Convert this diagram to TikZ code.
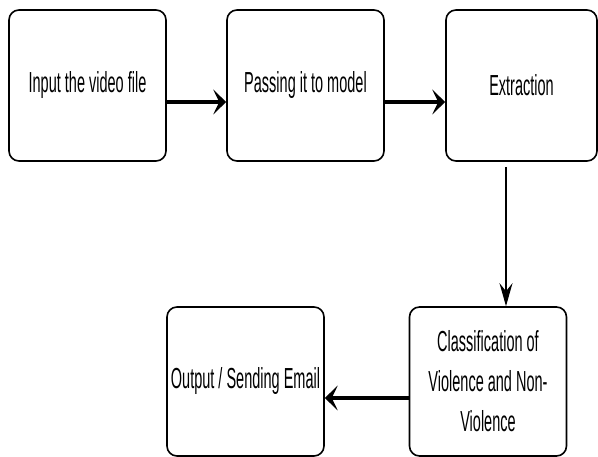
\documentclass[tikz,border=0pt]{standalone}
\usepackage{fontspec}
\setmainfont[FakeStretch=0.5]{Liberation Sans}
\usepackage{tikz}
\usetikzlibrary{arrows.meta}

\tikzset{
  stage/.style={draw, line width=1.6pt, rounded corners=10pt, align=center,
    minimum width=157pt, minimum height=151pt, inner sep=1pt,
    font=\fontsize{29}{40}\selectfont},
  flow/.style={-{Stealth[length=13pt,width=25pt,inset=6pt]}, line width=3.4pt},
  drop/.style={-{Stealth[length=23pt,width=13pt,inset=8pt]}, line width=1.5pt}
}

\begin{document}
\begin{tikzpicture}[x=1pt,y=-1pt]
 \useasboundingbox (0,0) rectangle (598,457);

% Top row
 \node[stage] (input) at (87.5,85.5) {Input the video file};
 \node[stage] (pass) at (305.5,85.5) {Passing it to model};
 \node[stage, minimum width=151pt] (extract) at (521.5,85.5) {Extraction};

% Bottom row
 \node[stage, minimum height=149pt] (classify) at (488,381.5)
   {Classification of\\Violence and Non-\\Violence};
 \node[stage, minimum height=149pt] (output) at (245.5,381.5) {Output / Sending Email};

% Arrows
 \draw[flow] ([yshift=-16.5pt]input.east) -- ([yshift=-16.5pt]pass.west);
 \draw[flow] ([yshift=-16.5pt]pass.east) -- ([yshift=-16.5pt]extract.west);
 \draw[drop] ([xshift=-15.5pt,yshift=-5pt]extract.south) -- ([xshift=-15.5pt]extract.south |- classify.north);
 \draw[flow] ([yshift=-16.5pt]classify.west) -- ([yshift=-16.5pt]output.east);

\end{tikzpicture}
\end{document}
